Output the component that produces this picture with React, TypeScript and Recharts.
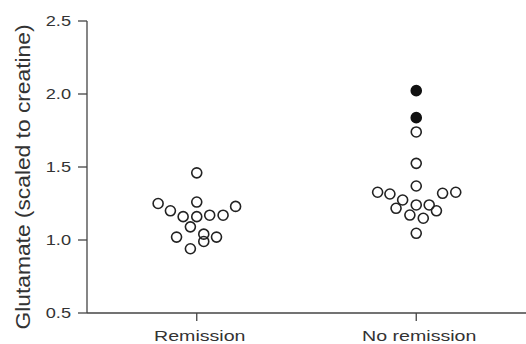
import React from 'react';
import { ScatterChart, Scatter, XAxis, YAxis } from 'recharts';

const categories = ['Remission', 'No remission'];
const yTicks = [0.5, 1.0, 1.5, 2.0, 2.5];

// glutamate values and horizontal jitter (in category units)
const remissionValues = [1.46, 1.25, 1.2, 1.16, 1.26, 1.16, 1.17, 1.17, 1.23, 1.09, 1.02, 1.04, 0.99, 1.02, 0.94];
const remissionOffsets = [0, -0.176, -0.12, -0.062, 0, 0, 0.059, 0.12, 0.177, -0.029, -0.092, 0.032, 0.032, 0.09, -0.029];

const noRemissionValues = [1.74, 1.525, 1.37, 1.327, 1.315, 1.32, 1.327, 1.274, 1.217, 1.24, 1.24, 1.2, 1.171, 1.149, 1.046];
const noRemissionOffsets = [0, 0, 0, -0.176, -0.12, 0.12, 0.18, -0.062, -0.092, 0, 0.059, 0.092, -0.029, 0.032, 0];

const filledValues = [2.023, 1.838];
const filledOffsets = [0, 0];

const openPoints = [
  ...remissionValues.map((y, i) => ({ x: 1 + remissionOffsets[i], y })),
  ...noRemissionValues.map((y, i) => ({ x: 2 + noRemissionOffsets[i], y })),
];
const filledPoints = filledValues.map((y, i) => ({ x: 2 + filledOffsets[i], y }));

const FONT = '"Liberation Sans", Arial, sans-serif';
const INK = '#333';

function Ring(props: any) {
  return <circle cx={props.cx} cy={props.cy} r={5} fill="none" stroke="#222" strokeWidth={1.6} />;
}

function Dot(props: any) {
  return <circle cx={props.cx} cy={props.cy} r={5} fill="#111" stroke="#111" strokeWidth={1.6} />;
}

function YTick(props: any) {
  const { x, y, payload } = props;
  return (
    <g transform={`translate(${x},${y}) scale(1.3,1)`}>
      <text x={0} y={0} dy="0.36em" textAnchor="end" fontSize={14} fill={INK} fontFamily={FONT}>
        {Number(payload.value).toFixed(1)}
      </text>
    </g>
  );
}

function XTick(props: any) {
  const { x, y, payload } = props;
  return (
    <g transform={`translate(${x + 3},${y}) scale(1.4,1)`}>
      <text x={0} y={0} dy={18} textAnchor="middle" fontSize={14} fill={INK} fontFamily={FONT}>
        {categories[Math.round(payload.value) - 1]}
      </text>
    </g>
  );
}

function YLabel() {
  return (
    <text
      transform="translate(30,177) rotate(-90)"
      x={0}
      y={0}
      textAnchor="middle"
      fontSize={20}
      fill={INK}
      fontFamily={FONT}
      textLength={305}
      lengthAdjust="spacingAndGlyphs"
    >
      Glutamate (scaled to creatine)
    </text>
  );
}

export default function App() {
  return (
    <div style={{ position: 'absolute', left: 0, top: 0, background: '#fff' }}>
      <ScatterChart width={526} height={344} margin={{ top: 21, right: 0, bottom: 0, left: 0 }}>
        <XAxis
          type="number"
          dataKey="x"
          domain={[0.5, 2.5]}
          ticks={[1, 2]}
          height={31}
          tickSize={8}
          tickMargin={2}
          stroke="#444"
          strokeWidth={1.3}
          tick={<XTick />}
          allowDataOverflow
        />
        <YAxis
          type="number"
          dataKey="y"
          domain={[0.5, 2.5]}
          ticks={yTicks}
          width={87}
          tickSize={9}
          tickMargin={7}
          stroke="#444"
          strokeWidth={1.3}
          tick={<YTick />}
          label={<YLabel />}
          allowDataOverflow
        />
        <Scatter data={openPoints} shape={<Ring />} isAnimationActive={false} />
        <Scatter data={filledPoints} shape={<Dot />} isAnimationActive={false} />
      </ScatterChart>
    </div>
  );
}
